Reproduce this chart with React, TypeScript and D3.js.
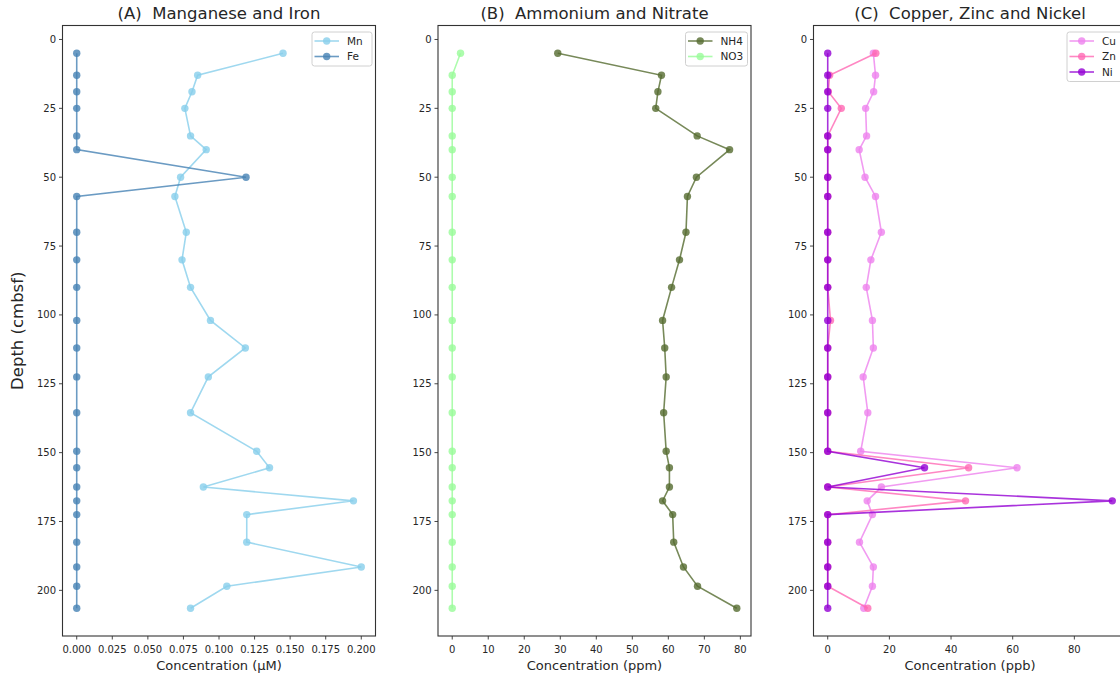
import React from "react";
import * as d3 from "d3";

// Sample depths (cm below seafloor)
const depths = [5, 13, 19, 25, 35, 40, 50, 57, 70, 80, 90, 102, 112, 122.5, 135.5, 149.5, 155.5, 162.5, 167.5, 172.5, 182.5, 191.5, 198.5, 206.5];

// (A) Manganese and iron, µM
const mnValues = [0.145, 0.085, 0.081, 0.076, 0.08, 0.091, 0.073, 0.069, 0.077, 0.074, 0.08, 0.094, 0.1185, 0.0925, 0.08, 0.1265, 0.1355, 0.089, 0.1945, 0.1195, 0.1195, 0.2, 0.1055, 0.08];
const feValues = [0, 0, 0, 0, 0, 0, 0.119, 0, 0, 0, 0, 0, 0, 0, 0, 0, 0, 0, 0, 0, 0, 0, 0, 0];

// (B) Ammonium and nitrate, ppm
const nh4Values = [29.3, 58.1, 57.1, 56.5, 68.0, 77.0, 67.8, 65.3, 64.9, 63.1, 60.9, 58.4, 59.0, 59.4, 58.7, 59.4, 60.3, 60.3, 58.4, 61.2, 61.5, 64.2, 68.1, 79.0];
const no3Values = [2.3, 0, 0, 0, 0, 0, 0, 0, 0, 0, 0, 0, 0, 0, 0, 0, 0, 0, 0, 0, 0, 0, 0, 0];

// (C) Copper, zinc and nickel, ppb
const cuValues = [14.8, 15.5, 14.9, 12.3, 12.6, 10.2, 12.1, 15.5, 17.4, 14.0, 12.5, 14.5, 14.8, 11.5, 13.0, 10.7, 61.4, 17.4, 12.8, 14.5, 10.3, 14.8, 14.5, 11.7];
const znValues = [15.6, 0.6, 0.2, 4.4, 0, 0, 0, 0, 0, 0, 0, 0.9, 0, 0, 0, 0, 45.7, 0, 44.7, 0, 0, 0, 0, 13.0];
const niValues = [0, 0, 0, 0, 0, 0, 0, 0, 0, 0, 0, 0, 0, 0, 0, 0, 31.4, 0, 92.3, 0, 0, 0, 0, 0];

const depthTicks = [0, 25, 50, 75, 100, 125, 150, 175, 200];
const ticksA = [0, 0.025, 0.05, 0.075, 0.1, 0.125, 0.15, 0.175, 0.2];
const ticksB = [0, 10, 20, 30, 40, 50, 60, 70, 80];
const ticksC = [0, 20, 40, 60, 80];

const titles = ["(A)  Manganese and Iron", "(B)  Ammonium and Nitrate", "(C)  Copper, Zinc and Nickel"];
const xLabels = ["Concentration (\u03bcM)", "Concentration (ppm)", "Concentration (ppb)"];

type Series = { name: string; values: number[]; color: string };
type Panel = {
  title: string;
  xLabel: string;
  series: Series[];
  ticks: number[];
  fmt: (v: number) => string;
  legendW: number;
};

const panels: Panel[] = [
  {
    title: titles[0],
    xLabel: xLabels[0],
    series: [
      { name: "Mn", values: mnValues, color: "#87CEEB" },
      { name: "Fe", values: feValues, color: "#4682B4" },
    ],
    ticks: ticksA,
    fmt: d3.format(".3f"),
    legendW: 60,
  },
  {
    title: titles[1],
    xLabel: xLabels[1],
    series: [
      { name: "NH4", values: nh4Values, color: "#556B2F" },
      { name: "NO3", values: no3Values, color: "#98FB98" },
    ],
    ticks: ticksB,
    fmt: d3.format("d"),
    legendW: 62,
  },
  {
    title: titles[2],
    xLabel: xLabels[2],
    series: [
      { name: "Cu", values: cuValues, color: "#EE82EE" },
      { name: "Zn", values: znValues, color: "#FF69B4" },
      { name: "Ni", values: niValues, color: "#9400D3" },
    ],
    ticks: ticksC,
    fmt: d3.format("d"),
    legendW: 56,
  },
];

const W = 1120;
const H = 678;
const TOP = 25.5;
const BOTTOM = 636;
const PANEL_W = 313;
const LEFTS = [62.5, 438, 813.5];
const FONT = "'DejaVu Sans', sans-serif";
const TEXT = "#262626";
const ALPHA = 0.8;

// matplotlib-style 5% padding around the data extent
function padded(lo: number, hi: number): [number, number] {
  const m = (hi - lo) * 0.05;
  return [lo - m, hi + m];
}

const depthExtent = d3.extent(depths) as [number, number];
const y = d3.scaleLinear().domain(padded(depthExtent[0], depthExtent[1])).range([TOP, BOTTOM]);

function PanelView({ panel, left, showYLabel }: { panel: Panel; left: number; showYLabel: boolean }) {
  const all = panel.series.flatMap((s) => s.values);
  const x = d3
    .scaleLinear()
    .domain(padded(d3.min(all) as number, d3.max(all) as number))
    .range([left, left + PANEL_W]);
  const right = left + PANEL_W;
  const cx = left + PANEL_W / 2;

  const line = d3
    .line<number>()
    .x((v) => x(v))
    .y((_, i) => y(depths[i]));

  const legTop = 32;
  const rowGap = 15.5;
  const legH = 18.5 + rowGap * (panel.series.length - 1);
  const legRight = right - 3.5;
  const legLeft = legRight - panel.legendW;

  return (
    <g>
      <defs>
        <clipPath id={`clip-${left}`}>
          <rect x={left} y={TOP} width={PANEL_W} height={BOTTOM - TOP} />
        </clipPath>
      </defs>

      <g clipPath={`url(#clip-${left})`}>
        {panel.series.map((s) => (
          <g key={s.name}>
            <path d={line(s.values) ?? ""} fill="none" stroke={s.color} strokeOpacity={ALPHA} strokeWidth={1.6} />
            {s.values.map((v, i) => (
              <circle key={i} cx={x(v)} cy={y(depths[i])} r={3.7} fill={s.color} fillOpacity={ALPHA} />
            ))}
          </g>
        ))}
      </g>

      {/* frame */}
      <rect x={left} y={TOP} width={PANEL_W} height={BOTTOM - TOP} fill="none" stroke="#333" strokeWidth={1.1} />

      {/* depth axis */}
      {depthTicks.map((t) => (
        <g key={t}>
          <line x1={left - 3.5} x2={left} y1={y(t)} y2={y(t)} stroke="#333" strokeWidth={0.9} />
          <text x={left - 6.5} y={y(t)} dy="0.35em" textAnchor="end" fontSize={10} fontFamily={FONT} fill={TEXT}>
            {t}
          </text>
        </g>
      ))}

      {/* concentration axis */}
      {panel.ticks.map((t) => (
        <g key={t}>
          <line x1={x(t)} x2={x(t)} y1={BOTTOM} y2={BOTTOM + 3.5} stroke="#333" strokeWidth={0.9} />
          <text x={x(t)} y={BOTTOM + 16.5} textAnchor="middle" fontSize={10} fontFamily={FONT} fill={TEXT}>
            {panel.fmt(t)}
          </text>
        </g>
      ))}

      <text x={cx} y={669.5} textAnchor="middle" fontSize={13} fontFamily={FONT} fill={TEXT}>
        {panel.xLabel}
      </text>
      <text
        x={cx}
        y={19}
        textAnchor="middle"
        fontSize={16.5}
        fontFamily={FONT}
        fill={TEXT}
        xmlSpace="preserve"
        style={{ whiteSpace: "pre" }}
      >
        {panel.title}
      </text>

      {showYLabel && (
        <text
          transform={`translate(23, ${(TOP + BOTTOM) / 2}) rotate(-90)`}
          textAnchor="middle"
          fontSize={16.5}
          fontFamily={FONT}
          fill={TEXT}
        >
          Depth (cmbsf)
        </text>
      )}

      {/* legend */}
      <rect x={legLeft} y={legTop} width={panel.legendW} height={legH} rx={2.5} fill="#fff" fillOpacity={0.8} stroke="#d0d0d0" strokeWidth={1} />
      {panel.series.map((s, i) => {
        const ry = legTop + 9 + rowGap * i;
        return (
          <g key={s.name}>
            <line x1={legLeft + 2.5} x2={legLeft + 27} y1={ry} y2={ry} stroke={s.color} strokeOpacity={ALPHA} strokeWidth={1.6} />
            <circle cx={legLeft + 14.7} cy={ry} r={3.7} fill={s.color} fillOpacity={ALPHA} />
            <text x={legLeft + 35} y={ry} dy="0.36em" fontSize={10.5} fontFamily={FONT} fill={TEXT}>
              {s.name}
            </text>
          </g>
        );
      })}
    </g>
  );
}

export default function App() {
  return (
    <svg
      width={W}
      height={H}
      viewBox={`0 0 ${W} ${H}`}
      style={{ position: "absolute", left: 0, top: 0, background: "#fff" }}
    >
      <rect width={W} height={H} fill="#fff" />
      {panels.map((p, i) => (
        <PanelView key={p.title} panel={p} left={LEFTS[i]} showYLabel={i === 0} />
      ))}
    </svg>
  );
}
